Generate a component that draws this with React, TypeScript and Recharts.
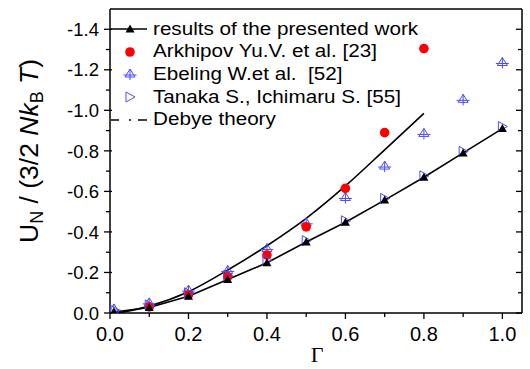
import { ComposedChart, Line, Scatter, XAxis, YAxis, Legend } from "recharts";

// Γ values and U_N/(3/2 NkT)
const GAMMA = [0.01, 0.1, 0.2, 0.3, 0.4, 0.5, 0.6, 0.7, 0.8, 0.9, 1.0];
const PRESENTED = [-0.005, -0.027, -0.083, -0.165, -0.248, -0.35, -0.448, -0.557, -0.67, -0.79, -0.91];
const TANAKA = [-0.015, -0.04, -0.1, -0.185, -0.262, -0.357, -0.455, -0.565, -0.677, -0.797, -0.92];
const EBELING = [-0.02, -0.05, -0.113, -0.21, -0.318, -0.445, -0.57, -0.725, -0.886, -1.054, -1.236];

const ARKHIPOV_GAMMA = [0.1, 0.2, 0.3, 0.4, 0.5, 0.6, 0.7, 0.8];
const ARKHIPOV = [-0.03, -0.09, -0.18, -0.286, -0.425, -0.615, -0.89, -1.305];

const DEBYE_GAMMA = [0.02, 0.1, 0.2, 0.3, 0.4, 0.5, 0.6, 0.7, 0.8];
const DEBYE = [0, -0.034, -0.105, -0.212, -0.332, -0.467, -0.627, -0.805, -0.985];

const X_TICKS = [0, 0.1, 0.2, 0.3, 0.4, 0.5, 0.6, 0.7, 0.8, 0.9, 1.0];
const Y_TICKS = [0, -0.1, -0.2, -0.3, -0.4, -0.5, -0.6, -0.7, -0.8, -0.9, -1.0, -1.1, -1.2, -1.3, -1.4];

const LABELS = [
  "results of the presented work",
  "Arkhipov Yu.V. et al. [23]",
  "Ebeling W.et al.  [52]",
  "Tanaka S., Ichimaru S. [55]",
  "Debye theory",
];

const BLUE = "#4b4bff";
const FONT = "'Liberation Sans', Arial, sans-serif";

const toPoints = (xs: number[], ys: number[]) => xs.map((g, i) => ({ g, u: ys[i] }));

const presentedData = toPoints(GAMMA, PRESENTED);
const tanakaData = toPoints(GAMMA, TANAKA);
const ebelingData = toPoints(GAMMA, EBELING);
const arkhipovData = toPoints(ARKHIPOV_GAMMA, ARKHIPOV);
const debyeData = toPoints(DEBYE_GAMMA, DEBYE);

const isMajor = (v: number) => Math.round(Math.abs(v) * 10) % 2 === 0;

// marker shapes
const TriUp = ({ cx, cy }: any) => (
  <polygon points={`${cx},${cy - 4.5} ${cx - 4.5},${cy + 3.5} ${cx + 4.5},${cy + 3.5}`} fill="#000" />
);
const RedDot = ({ cx, cy }: any) => <circle cx={cx} cy={cy} r={4.8} fill="#ff0000" />;
const CrossTri = ({ cx, cy }: any) => (
  <g stroke={BLUE} strokeWidth={1} fill="none">
    <polygon points={`${cx},${cy - 5} ${cx - 5},${cy + 3} ${cx + 5},${cy + 3}`} />
    <line x1={cx} x2={cx} y1={cy - 5} y2={cy + 6} />
    <line x1={cx - 6.5} x2={cx + 6.5} y1={cy + 1} y2={cy + 1} />
  </g>
);
const TriRight = ({ cx, cy }: any) => (
  <polygon
    points={`${cx - 4},${cy - 5} ${cx - 4},${cy + 5} ${cx + 5},${cy}`}
    fill="none"
    stroke={BLUE}
    strokeWidth={1}
  />
);

// ticks: all drawn here, labels only on major ones
const BottomTick = ({ x, y, payload }: any) => {
  const v = payload.value;
  const m = isMajor(v);
  return (
    <g>
      <line x1={x} x2={x} y1={y} y2={y + (m ? 6 : 4)} stroke="#000" strokeWidth={1.3} />
      {m && (
        <text x={x} y={y + 28} textAnchor="middle" fontSize={20} fill="#000" fontFamily={FONT}>
          {v.toFixed(1)}
        </text>
      )}
    </g>
  );
};
const TopTick = ({ x, y, payload }: any) => {
  const m = isMajor(payload.value);
  return <line x1={x} x2={x} y1={y} y2={y + (m ? 6 : 4)} stroke="#000" strokeWidth={1.3} />;
};
const LeftTick = ({ x, y, payload }: any) => {
  const v = payload.value;
  const m = isMajor(v);
  return (
    <g>
      <line x1={x - (m ? 6 : 4)} x2={x + (m ? 2 : 0)} y1={y} y2={y} stroke="#000" strokeWidth={1.3} />
      {m && (
        <text x={x - 11} y={y} dy="0.36em" textAnchor="end" fontSize={18.5} fill="#000" fontFamily={FONT}>
          {v === 0 ? "0.0" : v.toFixed(1)}
        </text>
      )}
    </g>
  );
};
const RightTick = ({ x, y, payload }: any) => {
  const m = isMajor(payload.value);
  return <line x1={x - (m ? 6 : 4)} x2={x} y1={y} y2={y} stroke="#000" strokeWidth={1.3} />;
};

const YLabel = () => (
  <text
    x={38}
    y={243}
    transform="rotate(-90, 38, 243)"
    textAnchor="start"
    fontSize={26.5}
    fill="#000"
    fontFamily={FONT}
  >
    <tspan>U</tspan>
    <tspan fontSize={18} dy={5}>N</tspan>
    <tspan dy={-5}> / (3/2 </tspan>
    <tspan fontStyle="italic">Nk</tspan>
    <tspan fontSize={18} dy={5}>B</tspan>
    <tspan dy={-5} fontStyle="italic"> T</tspan>
    <tspan>)</tspan>
  </text>
);

const XLabel = () => (
  <text x={317} y={362} textAnchor="middle" fontSize={22} fill="#000" fontFamily="'Liberation Serif', serif">
    Γ
  </text>
);

const LegendIcon = ({ i }: { i: number }) => {
  const cy = 11;
  return (
    <svg width={43} height={22} style={{ display: "block", overflow: "visible", flex: "none" }}>
      {i === 0 && (
        <g>
          <line x1={1} x2={37} y1={cy} y2={cy} stroke="#000" strokeWidth={1.5} />
          <TriUp cx={20} cy={cy} />
        </g>
      )}
      {i === 1 && <RedDot cx={20} cy={cy} />}
      {i === 2 && <CrossTri cx={20} cy={cy} />}
      {i === 3 && <TriRight cx={20} cy={cy} />}
      {i === 4 && (
        <g stroke="#000" strokeWidth={1.5}>
          <line x1={1} x2={9} y1={cy} y2={cy} />
          <line x1={19} x2={21} y1={cy} y2={cy} />
          <line x1={28} x2={37} y1={cy} y2={cy} />
        </g>
      )}
    </svg>
  );
};

const LegendBox = () => (
  <div style={{ fontFamily: FONT, fontSize: 17.5, color: "#000" }}>
    {LABELS.map((label, i) => (
      <div key={label} style={{ display: "flex", alignItems: "center", height: 22.6, whiteSpace: "pre" }}>
        <LegendIcon i={i} />
        <span style={{ display: "inline-block", transform: "scaleX(1.18)", transformOrigin: "left center" }}>
          {label}
        </span>
      </div>
    ))}
  </div>
);

export default function App() {
  const axisLine = { stroke: "#000", strokeWidth: 1.5 };
  return (
    <div style={{ position: "absolute", left: 0, top: 0, width: 530, height: 369, background: "#fff" }}>
      <ComposedChart width={530} height={369} margin={{ top: 0, right: 0, bottom: 0, left: 0 }}>
        <XAxis
          xAxisId="x"
          dataKey="g"
          type="number"
          domain={[0, 1.05]}
          allowDataOverflow
          ticks={X_TICKS}
          interval={0}
          height={56}
          tickSize={0}
          tickMargin={0}
          tickLine={false}
          axisLine={axisLine}
          tick={<BottomTick />}
          label={<XLabel />}
        />
        <XAxis
          xAxisId="top"
          orientation="top"
          type="number"
          domain={[0, 1.05]}
          allowDataOverflow
          ticks={X_TICKS}
          interval={0}
          height={9}
          tickSize={0}
          tickMargin={0}
          tickLine={false}
          axisLine={axisLine}
          tick={<TopTick />}
        />
        <YAxis
          yAxisId="y"
          dataKey="u"
          type="number"
          domain={[-1.5, 0]}
          reversed
          allowDataOverflow
          ticks={Y_TICKS}
          interval={0}
          width={110}
          tickSize={0}
          tickMargin={0}
          tickLine={false}
          axisLine={axisLine}
          tick={<LeftTick />}
          label={<YLabel />}
        />
        <YAxis
          yAxisId="right"
          orientation="right"
          type="number"
          domain={[-1.5, 0]}
          reversed
          allowDataOverflow
          ticks={Y_TICKS}
          interval={0}
          width={8}
          tickSize={0}
          tickMargin={0}
          tickLine={false}
          axisLine={axisLine}
          tick={<RightTick />}
        />
        <Legend
          layout="vertical"
          align="center"
          verticalAlign="middle"
          content={<LegendBox />}
          wrapperStyle={{ left: 110, top: 18, width: 330 }}
        />
        <Line
          xAxisId="x"
          yAxisId="y"
          data={debyeData}
          dataKey="u"
          type="monotone"
          stroke="#000"
          strokeWidth={1.6}
          dot={false}
          isAnimationActive={false}
        />
        <Scatter
          xAxisId="x"
          yAxisId="y"
          data={ebelingData}
          dataKey="u"
          shape={(p: any) => <CrossTri cx={p.cx} cy={p.cy} />}
          isAnimationActive={false}
        />
        <Scatter
          xAxisId="x"
          yAxisId="y"
          data={arkhipovData}
          dataKey="u"
          shape={(p: any) => <RedDot cx={p.cx} cy={p.cy} />}
          isAnimationActive={false}
        />
        <Line
          xAxisId="x"
          yAxisId="y"
          data={presentedData}
          dataKey="u"
          type="linear"
          stroke="#000"
          strokeWidth={1.6}
          dot={(p: any) => <TriUp key={p.index} cx={p.cx} cy={p.cy} />}
          isAnimationActive={false}
        />
        <Scatter
          xAxisId="x"
          yAxisId="y"
          data={tanakaData}
          dataKey="u"
          shape={(p: any) => <TriRight cx={p.cx} cy={p.cy} />}
          isAnimationActive={false}
        />
      </ComposedChart>
    </div>
  );
}
